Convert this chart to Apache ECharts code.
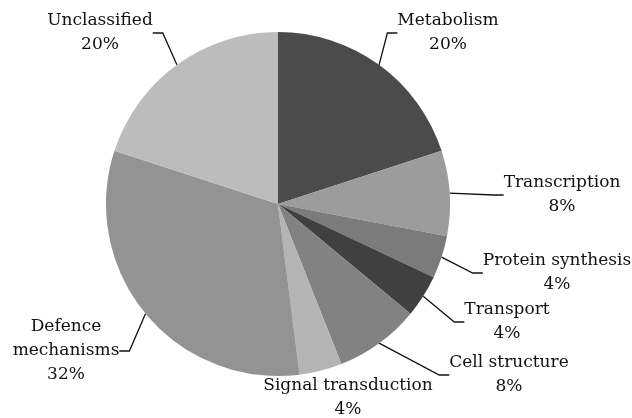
<!DOCTYPE html>
<html><head><meta charset="utf-8">
<script src="https://cdn.jsdelivr.net/npm/echarts@6/dist/echarts.min.js"></script>
<style>html,body{margin:0;padding:0;background:#fff}#c{width:632px;height:418px}</style>
</head><body><div id="c"></div>
<script>
const categories = ['Metabolism','Transcription','Protein synthesis','Transport','Cell structure','Signal transduction','Defence mechanisms','Unclassified'];
const values = [20, 8, 4, 4, 8, 4, 32, 20];
const colors = ['#4b4b4b','#9c9c9c','#7b7b7b','#404040','#828282','#b4b4b4','#939393','#bcbcbc'];
// label block centres (layout only)
const labelPos = [[448,33],[562,195],[557,273],[507,322],[509,375],[348,398],[66,351],[100,33]];

const chart = echarts.init(document.getElementById('c'), null, {renderer:'canvas'});
chart.setOption({
  animation:false,
  backgroundColor:'#fff',
  series:[{
    type:'pie',
    center:[278,204],
    radius:172,
    startAngle:90,
    clockwise:true,
    avoidLabelOverlap:false,
    data: categories.map((c,i)=>({name:c, value:values[i], itemStyle:{color:colors[i]},
       labelLine:{show: c!=='Signal transduction'}})),
    label:{
      show:true, position:'outside', color:'#111',
      fontFamily:'DejaVu Serif', fontSize:17, lineHeight:24, align:'center',
      formatter: p => (p.name==='Defence mechanisms' ? 'Defence\nmechanisms' : p.name) + '\n' + p.value + '%'
    },
    labelLine:{show:true, length:10, length2:10, lineStyle:{color:'#111', width:1.3}},
    labelLayout: p => ({x: labelPos[p.dataIndex][0], y: labelPos[p.dataIndex][1], align:'center', verticalAlign:'middle'})
  }]
});
</script></body></html>
